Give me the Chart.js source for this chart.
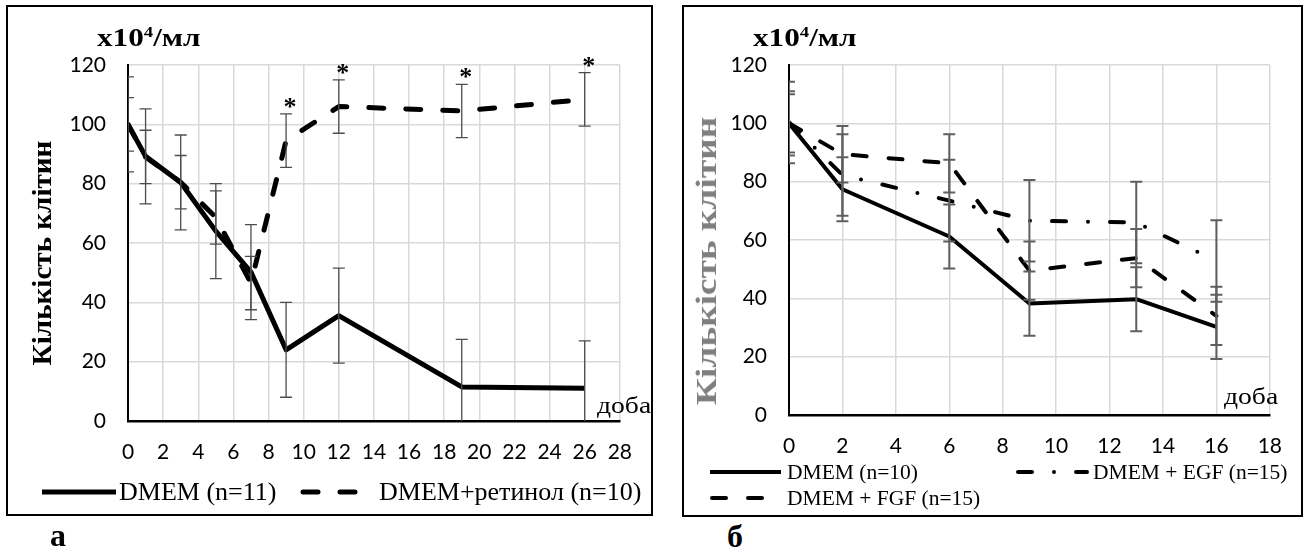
<!DOCTYPE html>
<html lang="uk">
<head>
<meta charset="utf-8">
<title>Кількість клітин</title>
<script src="https://cdn.jsdelivr.net/npm/chart.js@4.4.1/dist/chart.umd.min.js"></script>
<style>
    html, body { margin: 0; padding: 0; background: #fff; }
    body { width: 1309px; height: 550px; position: relative; overflow: hidden; font-family: "Liberation Serif", "Times New Roman", serif; color: #000; }
    .panel { position: absolute; border: 2px solid #000; box-sizing: border-box; }
    #panelA { left: 6px; top: 5px; width: 647px; height: 511px; }
    #panelB { left: 682px; top: 5px; width: 621px; height: 512px; }
    .panel canvas { position: absolute; left: 0; top: 0; }
    .units { position: absolute; font-weight: bold; font-size: 26px; line-height: 1; white-space: nowrap; transform: scaleX(1.2); transform-origin: left center; }
    .units sup { font-size: 60%; vertical-align: baseline; position: relative; top: -0.55em; }
    .ytitle { position: absolute; font-weight: bold; line-height: 1; white-space: nowrap; }
    .days { position: absolute; font-size: 24px; line-height: 1; white-space: nowrap; transform: scaleX(1.15); transform-origin: left center; }
    .letter { position: absolute; font-weight: bold; font-size: 32px; line-height: 1; }
</style>
</head>
<body>

<div class="panel" id="panelA">
    <canvas id="chartA" width="643" height="507"></canvas>
    <div class="units" style="left:89px; top:18px;">x10<sup>4</sup>/мл</div>
    <div class="ytitle" style="left:34px; top:246px; font-size:28px; transform: translate(-50%, -50%) rotate(-90deg) scaleX(1.04);">Кількість клітин</div>
    <div class="days" style="left:589px; top:386px;">доба</div>
</div>

<div class="panel" id="panelB">
    <canvas id="chartB" width="617" height="508"></canvas>
    <div class="units" style="left:69px; top:18px;">x10<sup>4</sup>/мл</div>
    <div class="ytitle" style="left:22px; top:254px; font-size:30px; color:#7f7f7f; transform: translate(-50%, -50%) rotate(-90deg) scaleX(1.245);">Кількість клітин</div>
    <div class="days" style="left:540px; top:377px;">доба</div>
</div>

<div class="letter" style="left:50px; top:519px;">а</div>
<div class="letter" style="left:727px; top:520px;">б</div>

<script>
// а: DMEM vs DMEM + ретинол
const daysA = [0, 1, 3, 5, 7, 9, 12, 19, 26];
const dmemA = [100, 89.2, 80.4, 64, 50.2, 24, 35.5, 11.5, 11];
const dmemErrA = [16, 16, 16, 16, 16, 16, 16, 16, 16];
const retinolA = [100, 89, 80.5, 68.6, 46.5, 94.5, 106, 104.5, 108.4];
const retinolErrA = [9, 9, 9, 9, 9, 9, 9, 9, 9];
const retinolStarDays = [9, 12, 19, 26];

// б: DMEM, DMEM + EGF, DMEM + FGF
const daysB = [0, 2, 6, 9, 13, 16];
const dmemB = [100, 77.4, 61.2, 38.2, 39.7, 30.2];
const dmemErrB = [11, 11, 11, 11, 11, 11];
const egfB = [100.3, 82.3, 73.5, 66.6, 66, 52.8];
const egfErrB = [14, 14, 14, 14, 14, 14];
const fgfB = [100, 89.4, 86.3, 49.5, 53.8, 34];
const fgfErrB = [10, 9.7, 10, 10, 10, 10];

const yTicks = { min: 0, max: 120, step: 20 };

function points(days, values) {
    return days.map((d, i) => ({ x: d, y: values[i] }));
}

// vertical error bars with caps, clipped to the plot area
const errorBars = {
    id: 'errorBars',
    afterDatasetsDraw(chart, args, opts) {
        const { ctx, chartArea: area, scales: { x, y } } = chart;
        ctx.save();
        ctx.beginPath();
        ctx.rect(area.left, area.top, area.right - area.left, area.bottom - area.top);
        ctx.clip();
        ctx.strokeStyle = opts.color;
        ctx.lineWidth = opts.width;
        ctx.setLineDash([]);
        chart.data.datasets.forEach(ds => {
            if (!ds.errorBars) return;
            ds.data.forEach((p, i) => {
                const e = ds.errorBars[i];
                const px = x.getPixelForValue(p.x);
                const top = y.getPixelForValue(p.y + e);
                const bottom = y.getPixelForValue(p.y - e);
                const half = opts.cap / 2;
                ctx.beginPath();
                ctx.moveTo(px, top);
                ctx.lineTo(px, bottom);
                ctx.moveTo(px - half, top);
                ctx.lineTo(px + half, top);
                ctx.moveTo(px - half, bottom);
                ctx.lineTo(px + half, bottom);
                ctx.stroke();
            });
        });
        ctx.restore();
    }
};

// "*" above the bars of significant points
const starMarks = {
    id: 'starMarks',
    afterDatasetsDraw(chart, args, opts) {
        const { ctx, scales: { x, y } } = chart;
        ctx.save();
        ctx.font = opts.textFont;
        ctx.fillStyle = '#000';
        ctx.textAlign = 'center';
        ctx.textBaseline = 'alphabetic';
        chart.data.datasets.forEach(ds => {
            if (!ds.stars) return;
            ds.stars.forEach(day => {
                const i = ds.data.findIndex(p => p.x === day);
                if (i < 0) return;
                const p = ds.data[i];
                const top = y.getPixelForValue(p.y + ds.errorBars[i]);
                ctx.fillText('*', x.getPixelForValue(p.x) + 4, top + 1);
            });
        });
        ctx.restore();
    }
};

// legend with line samples placed in rows/columns
const lineLegend = {
    id: 'lineLegend',
    afterDraw(chart, args, opts) {
        const ctx = chart.ctx;
        ctx.save();
        ctx.font = opts.textFont;
        ctx.fillStyle = '#000';
        ctx.textBaseline = 'middle';
        opts.items.forEach(item => {
            const ds = chart.data.datasets[item.dataset];
            ctx.strokeStyle = ds.borderColor;
            ctx.lineWidth = ds.borderWidth;
            ctx.lineCap = ds.borderCapStyle || 'butt';
            ctx.setLineDash(ds.borderDash || []);
            ctx.beginPath();
            ctx.moveTo(item.x1, item.y);
            ctx.lineTo(item.x2, item.y);
            ctx.stroke();
            ctx.setLineDash([]);
            ctx.fillText(ds.label, item.textX, item.y + 1);
        });
        ctx.restore();
    }
};

function axes(xMax, yWidth, tickSize) {
    const tickFont = { family: 'Lato', size: tickSize };
    return {
        x: {
            type: 'linear',
            min: 0,
            max: xMax,
            afterFit: s => { s.height = 50; },
            ticks: { stepSize: 2, padding: 19, color: '#000', font: tickFont },
            grid: { color: '#d9d9d9', lineWidth: 1.5, drawTicks: false },
            border: { color: '#000', width: 2.5 }
        },
        y: {
            min: yTicks.min,
            max: yTicks.max,
            afterFit: s => { s.width = yWidth; },
            ticks: { stepSize: yTicks.step, padding: 22, color: '#000', font: tickFont },
            grid: { color: '#d9d9d9', lineWidth: 1.5, drawTicks: false },
            border: { color: '#000', width: 2 }
        }
    };
}

Chart.defaults.animation = false;
Chart.defaults.responsive = false;

new Chart(document.getElementById('chartA'), {
    type: 'line',
    data: {
        datasets: [
            {
                label: 'DMEM (n=11)',
                data: points(daysA, dmemA),
                errorBars: dmemErrA,
                borderColor: '#000',
                borderWidth: 5,
                borderJoinStyle: 'round',
                pointRadius: 0,
                tension: 0
            },
            {
                label: 'DMEM+ретинол (n=10)',
                data: points(daysA, retinolA),
                errorBars: retinolErrA,
                stars: retinolStarDays,
                borderColor: '#000',
                borderWidth: 5,
                borderDash: [15, 22],
                borderCapStyle: 'round',
                borderJoinStyle: 'round',
                pointRadius: 0,
                tension: 0
            }
        ]
    },
    options: {
        layout: { padding: { left: 0, top: 58, right: 16, bottom: 43 } },
        scales: axes(28, 120, 21),
        plugins: {
            legend: { display: false },
            tooltip: { enabled: false },
            errorBars: { color: '#4d4d4d', width: 1.3, cap: 12 },
            starMarks: { textFont: 'bold 26px "Liberation Serif", serif' },
            lineLegend: {
                textFont: '26px "Liberation Serif", "Times New Roman", serif',
                items: [
                    { dataset: 0, x1: 34, x2: 108, y: 485, textX: 111 },
                    { dataset: 1, x1: 295, x2: 348, y: 485, textX: 371 }
                ]
            }
        }
    },
    plugins: [errorBars, starMarks, lineLegend]
});

new Chart(document.getElementById('chartB'), {
    type: 'line',
    data: {
        datasets: [
            {
                label: 'DMEM (n=10)',
                data: points(daysB, dmemB),
                errorBars: dmemErrB,
                borderColor: '#000',
                borderWidth: 4,
                borderJoinStyle: 'round',
                pointRadius: 0,
                tension: 0
            },
            {
                label: 'DMEM + EGF (n=15)',
                data: points(daysB, egfB),
                errorBars: egfErrB,
                borderColor: '#000',
                borderWidth: 4,
                borderDash: [14, 22, 0, 22],
                borderCapStyle: 'round',
                borderJoinStyle: 'round',
                pointRadius: 0,
                tension: 0
            },
            {
                label: 'DMEM + FGF (n=15)',
                data: points(daysB, fgfB),
                errorBars: fgfErrB,
                borderColor: '#000',
                borderWidth: 4,
                borderDash: [14, 22],
                borderCapStyle: 'round',
                borderJoinStyle: 'round',
                pointRadius: 0,
                tension: 0
            }
        ]
    },
    options: {
        layout: { padding: { left: 0, top: 58, right: 28, bottom: 50 } },
        scales: axes(18, 105, 21),
        plugins: {
            legend: { display: false },
            tooltip: { enabled: false },
            errorBars: { color: '#5f5f5f', width: 2, cap: 12 },
            lineLegend: {
                textFont: '21.5px "Liberation Serif", "Times New Roman", serif',
                items: [
                    { dataset: 0, x1: 26, x2: 97, y: 465, textX: 103 },
                    { dataset: 1, x1: 334, x2: 403, y: 465, textX: 409 },
                    { dataset: 2, x1: 28, x2: 97, y: 491, textX: 103 }
                ]
            }
        }
    },
    plugins: [errorBars, lineLegend]
});
</script>
</body>
</html>
